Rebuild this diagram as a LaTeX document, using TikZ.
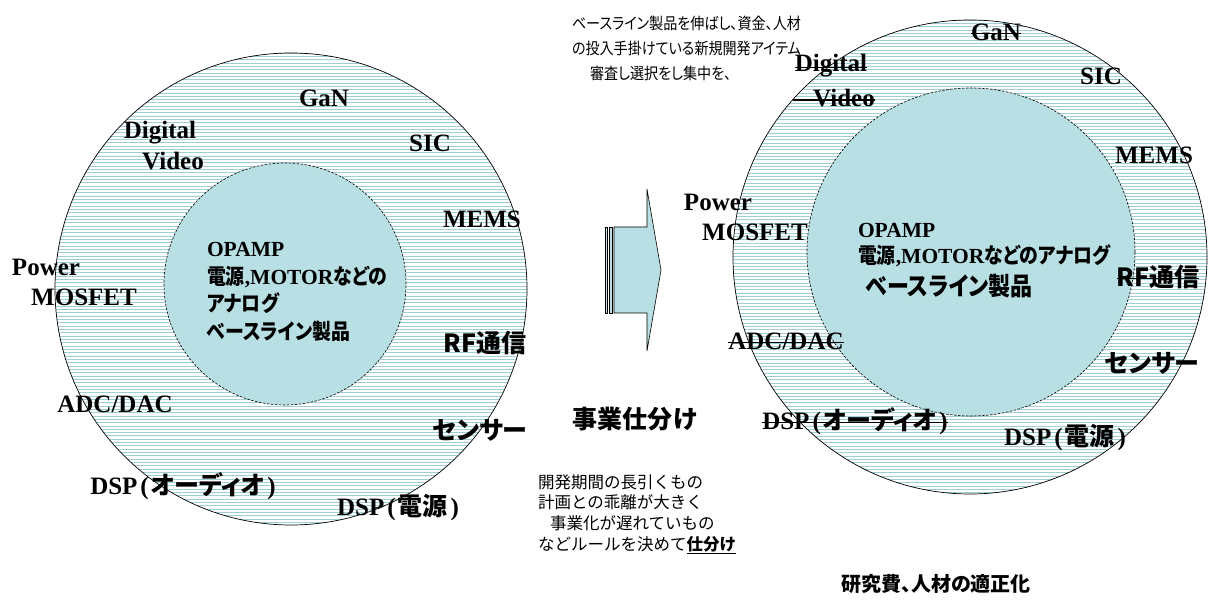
\documentclass[tikz,border=0pt]{standalone}
\usepackage{fontspec}
\setmainfont{Liberation Serif}
\newfontfamily\gothic[RawFeature=+palt]{Noto Sans CJK JP}
\newfontfamily\pgothic[RawFeature=+palt,FakeStretch=0.88]{Noto Sans CJK JP}
\newfontfamily\mgothic{Noto Sans CJK JP}
\usetikzlibrary{shapes}
\usetikzlibrary{arrows}

\newcommand{\jp}[1]{{\gothic #1}}
\newcommand{\pj}[1]{{\pgothic #1}}
\definecolor{seabox}{RGB}{184,223,227}
\definecolor{sealine}{RGB}{158,207,213}

\begin{document}
\begin{tikzpicture}[x=1pt,y=-1pt]
	\tikzstyle{every node}=[inner sep=0pt,outer sep=0pt,execute at begin node={\lineskiplimit=-100pt}]
	\tikzstyle{item}=[font=\fontsize{25}{27}\selectfont\bfseries]
	\tikzstyle{core}=[font=\fontsize{21.5}{27.6}\selectfont\bfseries,align=left,anchor=west]
	\tikzstyle{note}=[font=\mgothic\fontsize{16.5}{20.7}\selectfont,align=left,anchor=west]
	\tikzstyle{ring}=[draw=black,line width=0.7pt]
	\tikzstyle{hub}=[draw=black,fill=seabox,dash pattern=on 2.5pt off 1.5pt,line width=0.6pt]
	\tikzstyle{hatch}=[sealine,line width=0.9pt]
	\tikzstyle{strike}=[line width=1.4pt]

	\useasboundingbox (0,0) rectangle (1208,601);

	% left: before
	\begin{scope}
		\clip (291,289) circle (236pt);
		\foreach \k in {0,...,142} \draw[hatch] (50,{53+3.33*\k}) -- (530,{53+3.33*\k});
	\end{scope}
	\draw[ring] (291,289) circle (236pt);
	\draw[hub] (285,284) circle (121pt);

	% right: after
	\begin{scope}
		\clip (970,257) circle (237pt);
		\foreach \k in {0,...,143} \draw[hatch] (730,{20+3.33*\k}) -- (1210,{20+3.33*\k});
	\end{scope}
	\draw[ring] (970,257) circle (237pt);
	\draw[hub] (971,252) circle (164pt);

	% arrow
	\draw[fill=seabox,line width=0.6pt] (614,227) -- (647,227) -- (647,189) -- (661,270) -- (647,351) -- (647,313) -- (614,313) -- cycle;
	\draw[fill=seabox,line width=0.6pt] (605,227) rectangle (607.5,313);
	\draw[fill=seabox,line width=0.6pt] (609.5,227) rectangle (612,313);

	% left labels
	\node[item] (ganL) at (324,98) {GaN};
	\node[item] (digL) at (160,133) {Digital};
	\node[item] (vidL) at (173,161) {Video};
	\node[item] (sicL) at (430,143) {SIC};
	\node[item] (memsL) at (482,219) {MEMS};
	\node[item] (powL) at (46,267) {Power};
	\node[item] (mosL) at (84,297) {MOSFET};
	\node[item] (rfL) at (485,343) {\jp{RF通信}};
	\node[item] (adcL) at (115,404) {ADC/DAC};
	\node[item] (senL) at (480,430) {\jp{センサー}};
	\node[item] (dspaL) at (183,486) {DSP\kern3pt(\kern2pt\jp{オーディオ}\kern3pt)};
	\node[item] (dspbL) at (398,508) {DSP\kern3pt(\kern2pt\jp{電源}\kern3pt)};
	\node[core] (coreL) at (207,292) {OPAMP\\\pj{電源},MOTOR\pj{などの}\\\pj{アナログ}\\\pj{ベースライン製品}};

	% right labels
	\node[item] (ganR) at (996,32) {GaN};
	\node[item] (digR) at (831,66) {Digital};
	\node[item] (vidR) at (844,98) {Video};
	\node[item] (sicR) at (1101,76) {SIC};
	\node[item] (memsR) at (1154,155) {MEMS};
	\node[item] (powR) at (718,202) {Power};
	\node[item] (mosR) at (755,232) {MOSFET};
	\node[item] (rfR) at (1158,277) {\jp{RF通信}};
	\node[item] (adcR) at (786,341) {ADC/DAC};
	\node[item] (senR) at (1152,363) {\jp{センサー}};
	\node[item] (dspaR) at (855,421) {DSP\kern3pt(\kern2pt\jp{オーディオ}\kern3pt)};
	\node[item] (dspbR) at (1065,438) {DSP\kern3pt(\kern2pt\jp{電源}\kern3pt)};
	\node[core] (opR) at (858,230) {OPAMP};
	\node[core] (motR) at (858,256) {\pj{電源},MOTOR\pj{などのアナログ}};
	\node[core,font=\pgothic\fontsize{25}{27}\selectfont\bfseries] (baseR) at (866,286) {ベースライン製品};

	% struck items
	\foreach \n in {ganR,digR,rfR,adcR,dspaR}
		\draw[strike] ([yshift=-1.5pt]\n.west) -- ([yshift=-1.5pt]\n.east);
	\draw[strike] ([xshift=-20pt,yshift=-2pt]vidR.west) -- ([yshift=-2pt]vidR.east);

	% notes
	\node[note,font=\pgothic\fontsize{16}{25}\selectfont] (plan) at (572,48) {ベースライン製品を伸ばし、資金、人材\\の投入手掛けている新規開発アイテム\\\hspace*{18pt}審査し選択をし集中を、};
	\node[font=\gothic\fontsize{25}{27}\selectfont\bfseries] (shiwake) at (635,419) {事業仕分け};
	\node[note] (rule) at (538,514) {開発期間の長引くもの\\計画との乖離が大きく\\\hspace*{12pt}事業化が遅れていもの\\などルールを決めて\underline{\bfseries 仕分け}};
	\node[font=\gothic\fontsize{20}{22}\selectfont\bfseries] (tekisei) at (936,584) {研究費、人材の適正化};
\end{tikzpicture}
\end{document}
